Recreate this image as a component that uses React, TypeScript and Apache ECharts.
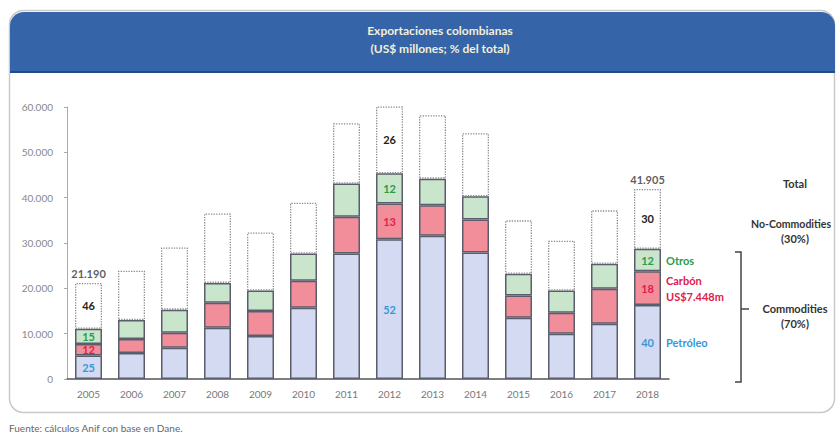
import React, { useEffect, useRef } from "react";
import * as echarts from "echarts";

const years = ["2005","2006","2007","2008","2009","2010","2011","2012","2013","2014","2015","2016","2017","2018"];
// US$ millones
const petroleo = [5200, 5750, 6900, 11300, 9500, 15700, 27700, 30800, 31600, 27900, 13500, 10000, 12200, 16300];
const carbon = [2500, 3050, 3300, 5500, 5500, 6000, 8100, 7900, 6700, 7300, 4900, 4600, 7700, 7448];
const otros = [3400, 4200, 5100, 4400, 4500, 6000, 7300, 6700, 5900, 5100, 4800, 4900, 5500, 5000];
const totales = [21190, 23900, 29000, 36500, 32300, 38900, 56400, 60125, 58200, 54200, 35000, 30500, 37200, 41905];
// % del total (labels shown only in some years)
const pctPetroleo = [25, null, null, null, null, null, null, 52, null, null, null, null, null, 40];
const pctCarbon = [12, null, null, null, null, null, null, 13, null, null, null, null, null, 18];
const pctOtros = [15, null, null, null, null, null, null, 12, null, null, null, null, null, 12];
const pctResto = [46, null, null, null, null, null, null, 26, null, null, null, null, null, 30];
const showTotal = [true, false, false, false, false, false, false, true, false, false, false, false, false, true];
const yTicks = [0, 10000, 20000, 30000, 40000, 50000, 60000];

const FONT = "Lato, 'Open Sans', sans-serif";
const fmt = (v: number) => String(v).replace(/\B(?=(\d{3})+(?!\d))/g, ".");

export default function App() {
  const ref = useRef<HTMLDivElement>(null);
  useEffect(() => {
    if (!ref.current) return;
    const chart = echarts.init(ref.current, null, { renderer: "svg" });
    const resto = totales.map((t, i) => t - petroleo[i] - carbon[i] - otros[i]);
    const mk = (vals: number[], pcts: (number | null)[], color: string) =>
      vals.map((v, i) =>
        pcts[i] == null
          ? v
          : {
              value: v,
              label: {
                show: true,
                position: "inside",
                formatter: String(pcts[i]),
                color,
                fontSize: 11,
                fontWeight: "bold",
                fontFamily: FONT,
              },
            }
      );
    const segBorder = { borderColor: "#5a5d6c", borderWidth: 1.5 };
    const option: any = {
      animation: false,
      textStyle: { fontFamily: FONT },
      grid: { left: 67, top: 107, width: 602, height: 272 },
      xAxis: {
        type: "category",
        data: years,
        axisLine: { lineStyle: { color: "#555", width: 1.5 } },
        axisTick: { show: false },
        axisLabel: { color: "#777", fontSize: 10, margin: 10, fontFamily: FONT },
      },
      yAxis: {
        type: "value",
        min: yTicks[0],
        max: yTicks[yTicks.length - 1],
        interval: 10000,
        axisLine: { show: true, lineStyle: { color: "#aaa" } },
        axisTick: { show: true, length: 3, lineStyle: { color: "#aaa" } },
        splitLine: { show: false },
        axisLabel: { color: "#888", fontSize: 10, margin: 14, fontFamily: FONT, formatter: (v: number) => fmt(v) },
      },
      series: [
        {
          name: "Petróleo",
          type: "bar",
          stack: "a",
          barWidth: 27,
          itemStyle: { color: "#d4daf1", ...segBorder },
          data: mk(petroleo, pctPetroleo, "#3a97d6"),
        },
        {
          name: "Carbón",
          type: "bar",
          stack: "a",
          itemStyle: { color: "#f28e99", ...segBorder },
          data: mk(carbon, pctCarbon, "#e0204a"),
        },
        {
          name: "Otros",
          type: "bar",
          stack: "a",
          itemStyle: { color: "#c9e6cd", ...segBorder },
          data: mk(otros, pctOtros, "#2e9a4a"),
        },
        {
          name: "No-Commodities",
          type: "bar",
          stack: "a",
          itemStyle: { color: "#ffffff", borderColor: "#8a8a8a", borderWidth: 1.3, borderType: "dotted" },
          data: mk(resto, pctResto, "#222"),
        },
        {
          name: "Total",
          type: "scatter",
          symbolSize: 0,
          data: totales.map((t, i) => ({
            value: t,
            label: {
              show: showTotal[i],
              position: "top",
              distance: 4,
              formatter: fmt(t),
              color: "#333",
              fontSize: 11,
              fontWeight: "bold",
              fontFamily: FONT,
            },
          })),
        },
      ],
      graphic: [
        {
          type: "rect",
          z: -10,
          shape: { x: 9.5, y: 10.5, width: 825, height: 402, r: 14 },
          style: { fill: "#fff", stroke: "#c9c9c9", lineWidth: 1.5 },
        },
        {
          type: "rect",
          z: -9,
          shape: { x: 10, y: 12, width: 825, height: 60, r: [14, 14, 0, 0] },
          style: { fill: "#3564a8" },
        },
        {
          type: "line",
          z: -8,
          shape: { x1: 10, y1: 72, x2: 835, y2: 72 },
          style: { stroke: "#234a86", lineWidth: 2 },
        },
        {
          type: "text",
          x: 440,
          y: 30,
          style: { text: "Exportaciones colombianas", fill: "#f4efd8", font: `bold 12px ${FONT}`, align: "center", verticalAlign: "middle" },
        },
        {
          type: "text",
          x: 440,
          y: 48,
          style: { text: "(US$ millones; % del total)", fill: "#f4efd8", font: `bold 12px ${FONT}`, align: "center", verticalAlign: "middle" },
        },
        { type: "text", x: 666, y: 260, style: { text: "Otros", fill: "#2e9a4a", font: `bold 11px ${FONT}`, verticalAlign: "middle" } },
        { type: "text", x: 666, y: 280, style: { text: "Carbón", fill: "#e0204a", font: `bold 11px ${FONT}`, verticalAlign: "middle" } },
        { type: "text", x: 666, y: 296, style: { text: "US$7.448m", fill: "#e0204a", font: `bold 11px ${FONT}`, verticalAlign: "middle" } },
        { type: "text", x: 666, y: 342, style: { text: "Petróleo", fill: "#3a97d6", font: `bold 11px ${FONT}`, verticalAlign: "middle" } },
        { type: "text", x: 795, y: 183, style: { text: "Total", fill: "#333", font: `bold 11px ${FONT}`, align: "center", verticalAlign: "middle" } },
        { type: "text", x: 831, y: 224, style: { text: "No-Commodities", fill: "#333", font: `bold 10.5px ${FONT}`, align: "right", verticalAlign: "middle" } },
        { type: "text", x: 795, y: 238, style: { text: "(30%)", fill: "#333", font: `bold 11px ${FONT}`, align: "center", verticalAlign: "middle" } },
        { type: "text", x: 795, y: 308, style: { text: "Commodities", fill: "#333", font: `bold 11px ${FONT}`, align: "center", verticalAlign: "middle" } },
        { type: "text", x: 795, y: 323, style: { text: "(70%)", fill: "#333", font: `bold 11px ${FONT}`, align: "center", verticalAlign: "middle" } },
        {
          type: "polyline",
          shape: { points: [[735, 252], [741, 252], [741, 382], [735, 382]] },
          style: { stroke: "#444", lineWidth: 1.5, fill: "none" },
        },
        {
          type: "line",
          shape: { x1: 741, y1: 309, x2: 749, y2: 309 },
          style: { stroke: "#444", lineWidth: 1.5 },
        },
        {
          type: "text",
          x: 9,
          y: 428,
          style: { text: "Fuente: cálculos Anif con base en Dane.", fill: "#666", font: `10px ${FONT}`, verticalAlign: "middle" },
        },
      ],
    };
    chart.setOption(option);
    return () => chart.dispose();
  }, []);
  return <div ref={ref} style={{ position: "absolute", left: 0, top: 0, width: 837, height: 434 }} />;
}
